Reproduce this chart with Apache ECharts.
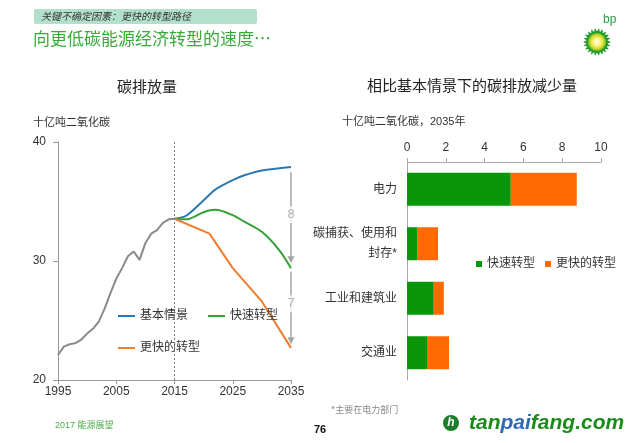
<!DOCTYPE html>
<html>
<head>
<meta charset="utf-8">
<script src="https://cdn.jsdelivr.net/npm/echarts@6/dist/echarts.min.js"></script>
<style>html,body{margin:0;padding:0;background:#fff}#c{width:640px;height:443px}</style>
</head>
<body>
<div id="c"></div>
<script>
// ---------- data ----------
const yearLabels = [];
for (let y = 1995; y <= 2035; y++) yearLabels.push(String(y));
const histYears = [1995,1996,1997,1998,1999,2000,2001,2002,2003,2004,2005,2006,2007,2008,2009,2010,2011,2012,2013,2014,2015];
const histValues = [22.1,22.8,23.0,23.1,23.4,23.9,24.3,24.9,26.0,27.3,28.5,29.4,30.4,30.8,30.1,31.5,32.3,32.6,33.2,33.5,33.55];
const baseYears = [2015,2017,2020,2022,2025,2027,2030,2035];
const baseValues = [33.55,33.8,35.1,36.0,36.8,37.2,37.6,37.9];
const fastYears = [2015,2017,2020,2022,2025,2027,2030,2033,2035];
const fastValues = [33.55,33.5,34.1,34.3,33.85,33.3,32.45,30.9,29.4];
const fasterYears = [2015,2021,2025,2030,2035];
const fasterValues = [33.55,32.3,29.4,26.6,22.7];
const gapLabels = ['8','7'];
const gapLabelValues = [33.9, 26.4];

const sectors = ['电力','碳捕获、使用和\n封存*','工业和建筑业','交通业'];
const fastCut = [5.35,0.52,1.38,1.03];
const fasterCut = [3.4,1.08,0.52,1.14];
const cutTicks = [0,2,4,6,8,10];

// ---------- chart ----------
const FF = "'Liberation Sans', 'Noto Sans CJK SC', sans-serif";
const pairs = (ys, vs) => ys.map((y, i) => [String(y), vs[i]]);
const chart = echarts.init(document.getElementById('c'));

// bp sun logo polygon
const sun = [];
const cx = 597, cy = 42, n = 22;
for (let i = 0; i < n * 2; i++) {
  const r = i % 2 === 0 ? 14 : 10.5;
  const a = Math.PI * i / n;
  sun.push([cx + r * Math.cos(a), cy + r * Math.sin(a)]);
}

chart.setOption({
  animation: false,
  textStyle: { fontFamily: FF },
  grid: [
    { left: 58, top: 142, width: 233, height: 238 },
    { left: 407, top: 162, width: 194, height: 218 }
  ],
  xAxis: [
    {
      gridIndex: 0, type: 'category', data: yearLabels, boundaryGap: false,
      axisLine: { lineStyle: { color: '#999' } },
      axisTick: { interval: 9, length: 4, lineStyle: { color: '#999' } },
      axisLabel: { interval: 9, color: '#333', fontSize: 12, margin: 6, fontFamily: FF }
    },
    {
      gridIndex: 1, type: 'value', position: 'top', min: 0, max: 10, interval: 2,
      axisLine: { show: true, lineStyle: { color: '#aaa' } },
      axisTick: { show: true, length: 4, lineStyle: { color: '#aaa' } },
      splitLine: { show: false },
      axisLabel: { color: '#333', fontSize: 12, margin: 8, fontFamily: FF }
    }
  ],
  yAxis: [
    {
      gridIndex: 0, type: 'value', min: 20, max: 40, interval: 10,
      axisLine: { show: true, lineStyle: { color: '#999' } },
      axisTick: { show: true, length: 5, lineStyle: { color: '#999' } },
      splitLine: { show: false },
      axisLabel: { color: '#333', fontSize: 12, margin: 12, fontFamily: FF }
    },
    {
      gridIndex: 1, type: 'category', data: sectors, inverse: true,
      axisLine: { show: true, lineStyle: { color: '#aaa' } },
      axisTick: { show: false },
      axisLabel: { color: '#333', fontSize: 12, margin: 10, lineHeight: 20, fontFamily: FF }
    }
  ],
  legend: [
    {
      data: ['基本情景', '快速转型'], left: 113, top: 305, icon: 'rect',
      itemWidth: 17, itemHeight: 2, itemGap: 20,
      textStyle: { fontSize: 12, color: '#333', fontFamily: FF }
    },
    {
      data: ['更快的转型'], left: 113, top: 337, icon: 'rect',
      itemWidth: 17, itemHeight: 2,
      textStyle: { fontSize: 12, color: '#333', fontFamily: FF }
    },
    {
      data: ['快速转型 ', '更快的转型 '], left: 471, top: 253, icon: 'rect',
      itemWidth: 6, itemHeight: 6, itemGap: 10,
      formatter: s => s.trim(),
      textStyle: { fontSize: 12, color: '#333', fontFamily: FF }
    }
  ],
  series: [
    {
      name: '历史', type: 'line', xAxisIndex: 0, yAxisIndex: 0,
      data: pairs(histYears, histValues), symbol: 'none',
      lineStyle: { color: '#8a8a8a', width: 2 }, itemStyle: { color: '#8a8a8a' },
      markLine: {
        silent: true, symbol: 'none', label: { show: false },
        lineStyle: { color: '#777', type: [2, 2], width: 1 },
        data: [{ xAxis: '2015' }]
      }
    },
    {
      name: '基本情景', type: 'line', xAxisIndex: 0, yAxisIndex: 0,
      data: pairs(baseYears, baseValues), symbol: 'none', smooth: 0.3,
      lineStyle: { color: '#2a78b4', width: 2 }, itemStyle: { color: '#2a78b4' }
    },
    {
      name: '快速转型', type: 'line', xAxisIndex: 0, yAxisIndex: 0,
      data: pairs(fastYears, fastValues), symbol: 'none', smooth: 0.3,
      lineStyle: { color: '#35a035', width: 2 }, itemStyle: { color: '#35a035' }
    },
    {
      name: '更快的转型', type: 'line', xAxisIndex: 0, yAxisIndex: 0,
      data: pairs(fasterYears, fasterValues), symbol: 'none',
      lineStyle: { color: '#ee7d2e', width: 2 }, itemStyle: { color: '#ee7d2e' },
      markLine: {
        silent: true, symbol: ['none', 'triangle'], symbolSize: 7,
        label: { show: false },
        lineStyle: { color: '#a5a5a5', type: 'solid', width: 1.5 },
        data: [
          [{ coord: ['2035', 37.45] }, { coord: ['2035', 30.1] }],
          [{ coord: ['2035', 29.1] }, { coord: ['2035', 23.3] }]
        ]
      }
    },
    {
      name: 'gap', type: 'scatter', xAxisIndex: 0, yAxisIndex: 0, z: 10,
      symbolSize: 0, silent: true,
      data: gapLabels.map((t, i) => ['2035', gapLabelValues[i], t]),
      label: {
        show: true, position: 'inside', formatter: p => p.value[2],
        color: '#a0a0a0', fontSize: 13, backgroundColor: '#fff', padding: [2, 1],
        fontFamily: FF
      }
    },
    {
      name: '快速转型 ', type: 'bar', xAxisIndex: 1, yAxisIndex: 1, stack: 'cut',
      data: fastCut, barWidth: 33, itemStyle: { color: '#0a960a' }
    },
    {
      name: '更快的转型 ', type: 'bar', xAxisIndex: 1, yAxisIndex: 1, stack: 'cut',
      data: fasterCut, barWidth: 33, itemStyle: { color: '#ff6a05' }
    }
  ],
  graphic: [
    { type: 'rect', shape: { x: 34, y: 9, width: 223, height: 15, r: 2 }, style: { fill: '#b2e0cd' } },
    { type: 'text', x: 41, y: 16.5, style: { text: '关键不确定因素：更快的转型路径', font: "italic 10px 'Noto Sans CJK SC'", fill: '#333', textVerticalAlign: 'middle' } },
    { type: 'text', x: 33, y: 39, style: { text: '向更低碳能源经济转型的速度…', font: "17px 'Noto Sans CJK SC'", fill: '#3aaa3a', textVerticalAlign: 'middle' } },
    { type: 'text', x: 147, y: 86, style: { text: '碳排放量', font: "15px 'Noto Sans CJK SC'", fill: '#222', textAlign: 'center', textVerticalAlign: 'middle' } },
    { type: 'text', x: 472, y: 85, style: { text: '相比基本情景下的碳排放减少量', font: "15px 'Noto Sans CJK SC'", fill: '#222', textAlign: 'center', textVerticalAlign: 'middle' } },
    { type: 'text', x: 33, y: 122, style: { text: '十亿吨二氧化碳', font: "11px 'Noto Sans CJK SC'", fill: '#333', textVerticalAlign: 'middle' } },
    { type: 'text', x: 342, y: 122, style: { text: '十亿吨二氧化碳，2035年', font: "11px 'Liberation Sans','Noto Sans CJK SC'", fill: '#333', textVerticalAlign: 'middle' } },
    { type: 'text', x: 331, y: 410, style: { text: '*主要在电力部门', font: "9px 'Noto Sans CJK SC'", fill: '#888', textVerticalAlign: 'middle' } },
    { type: 'text', x: 55, y: 426, style: { text: '2017 能源展望', font: "9px 'Liberation Sans','Noto Sans CJK SC'", fill: '#4aa84a', textVerticalAlign: 'middle' } },
    { type: 'text', x: 320, y: 430, style: { text: '76', font: "bold 11px 'Liberation Sans'", fill: '#111', textAlign: 'center', textVerticalAlign: 'middle' } },
    // bp logo
    { type: 'text', x: 603, y: 20, style: { text: 'bp', font: "12px 'Liberation Sans'", fill: '#2a9a3a', textVerticalAlign: 'middle' } },
    { type: 'polygon', shape: { points: sun }, style: { fill: '#1f9a2a' } },
    { type: 'circle', shape: { cx: cx, cy: cy, r: 9.5 }, style: {
        fill: new echarts.graphic.RadialGradient(0.5, 0.5, 0.5, [
          { offset: 0, color: '#ffffff' }, { offset: 0.4, color: '#fff27a' },
          { offset: 0.75, color: '#c8d82a' }, { offset: 1, color: '#3aa52a' }
        ]) } },
    // watermark
    { type: 'circle', shape: { cx: 451, cy: 423, r: 8 }, style: { fill: '#1e7d2a' } },
    { type: 'text', x: 451, y: 423, style: { text: 'h', font: "italic bold 12px 'Liberation Sans'", fill: '#fff', textAlign: 'center', textVerticalAlign: 'middle' } },
    { type: 'text', x: 469, y: 423, style: {
        text: '{g|tan}{b|pai}{g|fang.com}', textVerticalAlign: 'middle',
        rich: {
          g: { font: "italic bold 21px 'Liberation Sans'", fill: '#1a8c1a' },
          b: { font: "italic bold 21px 'Liberation Sans'", fill: '#2f68b5' }
        } } }
  ]
});
</script>
</body>
</html>
